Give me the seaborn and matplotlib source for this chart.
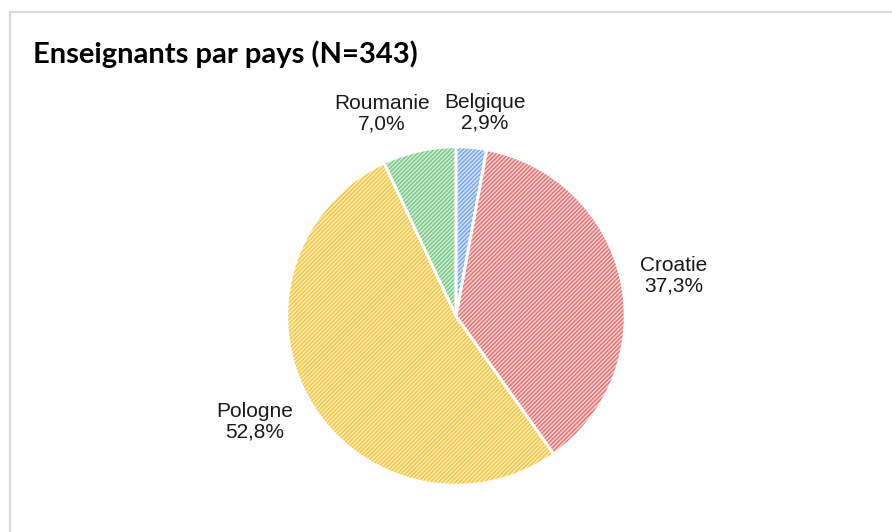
import matplotlib
matplotlib.use("Agg")
import matplotlib.pyplot as plt
import seaborn as sns
from matplotlib.patches import Rectangle

sns.set_theme(style="white")
plt.rcParams['font.family'] = ['Liberation Sans', 'DejaVu Sans']
plt.rcParams['hatch.linewidth'] = 1.2

countries = ["Belgique", "Croatie", "Pologne", "Roumanie"]
shares = [2.9, 37.3, 52.8, 7.0]
share_labels = ["2,9%", "37,3%", "52,8%", "7,0%"]
title = "Enseignants par pays (N=343)"

face_colors = ["#dbe7fb", "#f9d8d8", "#fdefc0", "#d8f0db"]
hatch_colors = ["#7ea9ee", "#e57a7a", "#f3c94a", "#7fca8b"]

W, H = 892, 532
fig = plt.figure(figsize=(W / 100, H / 100), dpi=100)
fig.patch.set_facecolor("white")

# outer frame
fig.add_artist(Rectangle((10 / W, -0.01), 1.0, (H - 12) / H + 0.01,
                         transform=fig.transFigure, fill=False,
                         edgecolor="#d9d9d9", linewidth=1.5))

cx, cy, r = 456, 316, 170
ax = fig.add_axes([(cx - r) / W, (H - cy - r) / H, 2 * r / W, 2 * r / H])

# hatched fill (hatch drawn in edge colour)
wedges, _ = ax.pie(shares, startangle=90, counterclock=False, radius=1,
                   colors=face_colors,
                   wedgeprops=dict(linewidth=0, hatch="////////"))
for w, hc in zip(wedges, hatch_colors):
    w.set_edgecolor(hc)
# white separators on top
ax.pie(shares, startangle=90, counterclock=False, radius=1,
       wedgeprops=dict(fill=False, edgecolor="white", linewidth=2))
ax.set_xlim(-1.005, 1.005)
ax.set_ylim(-1.005, 1.005)
ax.axis("off")

# labels (pixel anchor positions of label centres)
label_pos = {"Belgique": (485, 113), "Croatie": (674, 276),
             "Pologne": (255, 422), "Roumanie": (382, 114)}
for name, lab in zip(countries, share_labels):
    x, y = label_pos[name]
    fig.text(x / W, 1 - y / H, f"{name}\n{lab}", ha="center", va="center",
             fontsize=15, color="#1a1a1a", linespacing=1.1)

fig.text(33 / W, 1 - 54 / H, title, ha="left", va="center",
         fontsize=21, fontweight="bold", family=["Lato", "DejaVu Sans"],
         color="black")

fig.savefig("out.png", dpi=100, facecolor="white")
